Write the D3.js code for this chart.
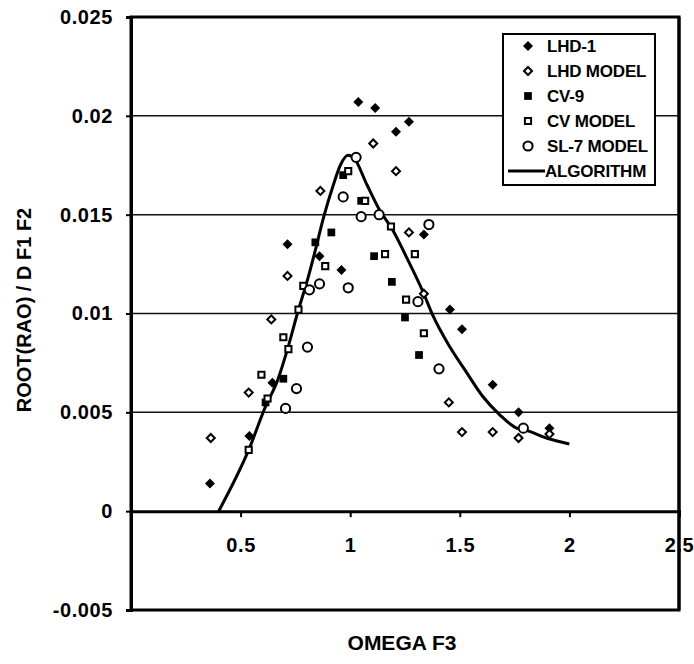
<!DOCTYPE html>
<html lang="en">
<head>
    <meta charset="UTF-8">
    <title>Root RAO vs Omega</title>
    <script src="https://d3js.org/d3.v7.min.js"></script>
    <style>
        body {
            margin: 0;
            background: #fff;
            font-family: "Liberation Sans", Arial, sans-serif;
        }
        svg {
            display: block;
        }
        .tick text {
            font-size: 20px;
            font-weight: bold;
            letter-spacing: 0.6px;
            fill: #000;
        }
    </style>
</head>
<body>
    <div id="container"></div>

    <script>
        // data [omega, value]
        const lhd1 = [[0.36,0.0014],[0.54,0.0038],[0.645,0.0065],[0.714,0.0135],[0.86,0.0129],[0.96,0.0122],
                      [1.037,0.0207],[1.114,0.0204],[1.209,0.0192],[1.268,0.0197],[1.336,0.0140],[1.455,0.0102],
                      [1.51,0.0092],[1.65,0.0064],[1.768,0.0050],[1.909,0.0042]];
        const lhdModel = [[0.364,0.0037],[0.537,0.0060],[0.64,0.0097],[0.714,0.0119],[0.864,0.0162],[1.105,0.0186],
                          [1.209,0.0172],[1.268,0.0141],[1.336,0.0110],[1.45,0.0055],[1.51,0.0040],[1.65,0.0040],
                          [1.768,0.0037],[1.909,0.0039]];
        const cv9 = [[0.614,0.0055],[0.695,0.0067],[0.841,0.0136],[0.914,0.0141],[0.968,0.0170],[1.05,0.0157],
                     [1.109,0.0129],[1.19,0.0116],[1.25,0.0098],[1.314,0.0079]];
        const cvModel = [[0.537,0.0031],[0.595,0.0069],[0.623,0.0057],[0.695,0.0088],[0.718,0.0082],[0.764,0.0102],
                         [0.786,0.0114],[0.886,0.0124],[0.991,0.0172],[1.068,0.0157],[1.159,0.0130],[1.186,0.0144],
                         [1.255,0.0107],[1.295,0.0130],[1.336,0.0090]];
        const sl7Model = [[0.705,0.0052],[0.755,0.0062],[0.805,0.0083],[0.814,0.0112],[0.86,0.0115],[0.968,0.0159],
                          [0.991,0.0113],[1.027,0.0179],[1.05,0.0149],[1.132,0.0150],[1.309,0.0106],[1.359,0.0145],
                          [1.405,0.0072],[1.79,0.0042]];
        const algorithm = [[0.4,0],[0.537,0.0031],[0.614,0.0053],[0.668,0.0066],[0.714,0.0082],[0.759,0.0100],
                           [0.805,0.0117],[0.841,0.0132],[0.877,0.0148],[0.923,0.0165],[0.955,0.0175],[0.99,0.0180],
                           [1.014,0.0179],[1.077,0.0165],[1.136,0.0152],[1.19,0.0143],[1.259,0.0128],[1.332,0.0111],
                           [1.377,0.0099],[1.455,0.0083],[1.532,0.0070],[1.605,0.0058],[1.68,0.0049],[1.759,0.0042],
                           [1.80,0.0041],[1.895,0.0037],[2.0,0.0034]];

        const xTicks = [0.5, 1, 1.5, 2, 2.5];
        const xTickLabels = ['0.5', '1', '1.5', '2', '2.5'];
        const yTicks = [-0.005, 0, 0.005, 0.01, 0.015, 0.02, 0.025];
        const yTickLabels = ['-0.005', '0', '0.005', '0.01', '0.015', '0.02', '0.025'];
        const gridValues = [0.005, 0.01, 0.015, 0.02];

        const seriesNames = ['LHD-1', 'LHD MODEL', 'CV-9', 'CV MODEL', 'SL-7 MODEL'];
        const seriesData = [lhd1, lhdModel, cv9, cvModel, sl7Model];

        const width = 694, height = 664;
        const plotLeft = 131, plotRight = 679, plotTop = 17, plotBottom = 610;

        const svg = d3.select('#container').append('svg')
            .attr('width', width)
            .attr('height', height);

        // scales
        const x = d3.scaleLinear().domain([0, 2.5]).range([plotLeft, plotRight]);
        const y = d3.scaleLinear().domain([-0.005, 0.025]).range([plotBottom, plotTop]);

        // marker drawing, one per series
        function marker(g, i) {
            if (i === 0) {
                g.append('path').attr('d', d3.symbol(d3.symbolSquare, 50)())
                    .attr('transform', 'rotate(45)').attr('fill', '#000');
            } else if (i === 1) {
                g.append('path').attr('d', d3.symbol(d3.symbolSquare, 32)())
                    .attr('transform', 'rotate(45)').attr('fill', '#fff')
                    .attr('stroke', '#000').attr('stroke-width', 2);
            } else if (i === 2) {
                g.append('path').attr('d', d3.symbol(d3.symbolSquare, 60)())
                    .attr('fill', '#000');
            } else if (i === 3) {
                g.append('path').attr('d', d3.symbol(d3.symbolSquare, 38)())
                    .attr('fill', '#fff').attr('stroke', '#000').attr('stroke-width', 2);
            } else {
                g.append('circle').attr('r', 4.6)
                    .attr('fill', '#fff').attr('stroke', '#000').attr('stroke-width', 2);
            }
        }

        // gridlines
        svg.selectAll('.grid')
            .data(gridValues)
            .enter()
            .append('line')
            .attr('x1', plotLeft).attr('x2', plotRight)
            .attr('y1', d => y(d)).attr('y2', d => y(d))
            .attr('stroke', '#111')
            .attr('stroke-width', 1.5);

        // plot frame
        svg.append('rect')
            .attr('x', plotLeft).attr('y', plotTop)
            .attr('width', plotRight - plotLeft).attr('height', plotBottom - plotTop)
            .attr('fill', 'none')
            .attr('stroke', '#000')
            .attr('stroke-width', 3);

        // y axis
        const yAxis = svg.append('g')
            .attr('transform', `translate(${plotLeft},0)`)
            .call(d3.axisLeft(y)
                .tickValues(yTicks)
                .tickFormat((d, i) => yTickLabels[i])
                .tickSize(5)
                .tickPadding(13));
        yAxis.select('.domain').attr('stroke-width', 3);
        yAxis.selectAll('.tick line').attr('stroke-width', 2);

        // x axis sits on y = 0
        const xAxis = svg.append('g')
            .attr('transform', `translate(0,${y(0)})`)
            .call(d3.axisBottom(x)
                .tickValues(xTicks)
                .tickFormat((d, i) => xTickLabels[i])
                .tickSize(6)
                .tickPadding(21));
        xAxis.select('.domain').attr('stroke-width', 3);
        xAxis.selectAll('.tick line').attr('stroke-width', 2);
        xAxis.selectAll('.tick').filter(d => d === 2.5).select('line').remove();

        // algorithm curve
        const line = d3.line()
            .x(d => x(d[0]))
            .y(d => y(d[1]))
            .curve(d3.curveMonotoneX);

        svg.append('path')
            .datum(algorithm)
            .attr('d', line)
            .attr('fill', 'none')
            .attr('stroke', '#000')
            .attr('stroke-width', 3);

        // points
        seriesData.forEach((data, i) => {
            svg.selectAll('.s' + i)
                .data(data)
                .enter()
                .append('g')
                .attr('class', 's' + i)
                .attr('transform', d => `translate(${x(d[0])},${y(d[1])})`)
                .each(function() { marker(d3.select(this), i); });
        });

        // redraw the right border on top so it cuts through "2.5"
        svg.append('line')
            .attr('x1', plotRight).attr('x2', plotRight)
            .attr('y1', plotTop).attr('y2', plotBottom)
            .attr('stroke', '#000').attr('stroke-width', 3);

        // legend
        const legend = svg.append('g');
        legend.append('rect')
            .attr('x', 503).attr('y', 34)
            .attr('width', 152).attr('height', 151)
            .attr('fill', '#fff')
            .attr('stroke', '#000')
            .attr('stroke-width', 2);

        const rowY = d3.scaleLinear().domain([0, 5]).range([46, 171]);

        seriesNames.forEach((name, i) => {
            const g = legend.append('g').attr('transform', `translate(528,${rowY(i)})`);
            marker(g, i);
            legend.append('text')
                .attr('x', 547).attr('y', rowY(i))
                .attr('dy', '0.36em')
                .attr('font-size', 17)
                .attr('font-weight', 'bold')
                .attr('letter-spacing', -0.2)
                .text(name);
        });
        legend.append('line')
            .attr('x1', 508).attr('x2', 545)
            .attr('y1', rowY(5)).attr('y2', rowY(5))
            .attr('stroke', '#000').attr('stroke-width', 3);
        legend.append('text')
            .attr('x', 545).attr('y', rowY(5))
            .attr('dy', '0.36em')
            .attr('font-size', 17)
            .attr('font-weight', 'bold')
            .attr('letter-spacing', -0.2)
            .text('ALGORITHM');

        // axis titles
        svg.append('text')
            .attr('x', 402).attr('y', 650)
            .attr('text-anchor', 'middle')
            .attr('font-size', 21)
            .attr('font-weight', 'bold')
            .text('OMEGA F3');

        svg.append('text')
            .attr('transform', 'translate(31,310) rotate(-90)')
            .attr('text-anchor', 'middle')
            .attr('font-size', 20)
            .attr('font-weight', 'bold')
            .text('ROOT(RAO) / D F1 F2');
    </script>
</body>
</html>
